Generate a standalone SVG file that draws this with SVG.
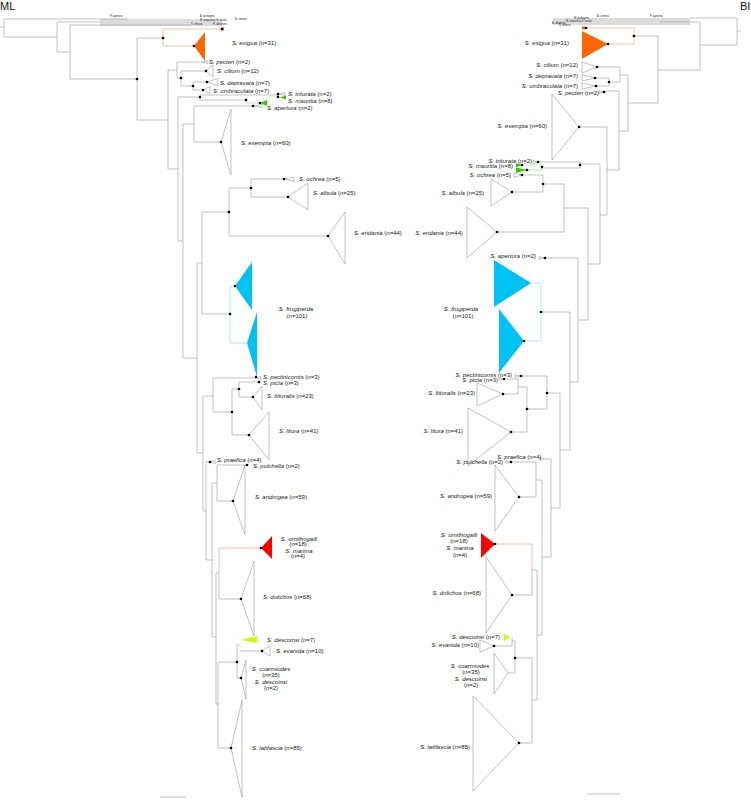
<svg xmlns="http://www.w3.org/2000/svg" width="751" height="800" viewBox="0 0 751 800">
<style>
.b{fill:none;stroke:#9a9a9a;stroke-width:0.6}
.t{fill:#fff;stroke:#9a9a9a;stroke-width:0.6}
.o{fill:none;stroke:#ff9a66;stroke-width:0.6}
.bl{fill:none;stroke:#7fd8f5;stroke-width:0.6}
.r{fill:none;stroke:#ff8a8a;stroke-width:0.6}
.y{fill:none;stroke:#e4f58a;stroke-width:0.6}
.gr{fill:none;stroke:#8fe07a;stroke-width:0.6}
.fo{fill:#ff6600}.fb{fill:#00c3f5}.fr{fill:#ff0000}.fg{fill:#33cc00}.fy{fill:#ccff00}
.band{fill:#dcdcdc}
text{font-family:"Liberation Sans",Arial,sans-serif;font-size:6px;fill:#1a1a1a}
.i{font-style:italic}
.s{font-size:2.6px}
.e{text-anchor:end}.m{text-anchor:middle}
.h{font-size:11px;fill:#111}
</style>
<defs>
<circle id="dt" r="1.3" fill="#000"/>
</defs>
<rect width="751" height="800" fill="#fff"/>
<text class="h" x="0" y="9.5">ML</text>
<text class="h" x="740" y="9.5">BI</text>

<!-- ================= LEFT TREE (ML) ================= -->
<g id="ml-outgroups">
<rect class="band" x="100" y="19" width="122" height="7"/>
<text class="s" x="110" y="17">P. agrotera</text>
<text class="s" x="200" y="16.5">A. prolegens</text>
<text class="s" x="200" y="20.5">M. unipuncta, S. ocular</text>
<text class="s" x="235" y="19.5">A. cinerea</text>
<text class="s" x="191" y="24.5">S. infusca</text>
<text class="s" x="213" y="24.5">H. albafrons</text>
</g>
<g id="ml-connectors">
<path class="b" d="M0 27H4M4 19V37M4 19H128M4 37H57M57 22V52M57 22H100M57 52H70M70 25V79M70 25H190M70 79H137M137 38V120M137 38H163M137 120H168"/>
<path class="o" d="M163 29V46M163 29H222M163 46H194"/>
<path class="b" d="M168 70V169M168 70H177M168 169H178M177 62V78M177 62H203M177 78H181M181 71V86M181 71H206M181 86H193M193 82V90M193 82H207M193 90H203"/>
<path class="b" d="M178 97V241M178 97H200M178 241H183M200 95V100M200 95H278M278 94V97M200 100H246"/>
<path class="gr" d="M278 97H281M246 100V103H260"/>
<path class="b" d="M183 124V358M183 124H194M183 358H197M194 106V142M194 106H253M194 142H221"/>
<path class="b" d="M197 263V453M197 263H202M197 453H203M202 212V314M202 212H229M202 314H230M229 188V236M229 188H251M229 236H328M251 179V197M251 179H284M251 197H288"/>
<path class="bl" d="M230 286V343M230 286H235M230 343H247"/>
<path class="b" d="M203 396V511M203 396H213M203 511H206M213 378V412M213 378H256M213 412H232M232 389V435M232 389H239M232 435H249M239 382V397M239 382H259M239 397H253"/>
<path class="b" d="M206 462V560M206 462H210M206 560H212M212 483V637M212 483H217M212 637H216M217 465V501M217 465H247M217 501H233"/>
<path class="b" d="M216 573V704M216 573H219M216 704H218M219 573V599M219 599H241"/>
<path class="r" d="M219 548V573M219 548H261"/>
<path class="b" d="M218 662V748M218 662H237M218 748H231M237 645V678M237 645H240M237 678H241M240 651H262"/>
<path class="y" d="M240 638V651M240 638H242"/>
<path class="b" d="M160 797H186"/>
</g>
<g id="ml-exigua"><rect class="fo" x="221" y="27.5" width="3" height="3"/><path class="fo" d="M194 46L205 32V61Z"/><text x="232" y="45"><tspan class="i">S. exigua</tspan>  (n=31)</text></g>
<g id="ml-pecten"><path class="t" d="M203 62L208 60.5V63.5Z"/><text x="209" y="64"><tspan class="i">S. pecten</tspan> (n=2)</text></g>
<g id="ml-cilium"><path class="t" d="M206 71L213 65V77Z"/><text x="217" y="73"><tspan class="i">S. cilium</tspan> (n=12)</text></g>
<g id="ml-depravata"><path class="t" d="M207 82L218 78.5V86Z"/><text x="220" y="84.5"><tspan class="i">S. depravata</tspan> (n=7)</text></g>
<g id="ml-umbraculata"><path class="t" d="M203 90L210 86.5V93.5Z"/><text x="213" y="92.5"><tspan class="i">S. umbraculata</tspan> (n=7)</text></g>
<g id="ml-triturata"><path class="t" d="M279 94L285 92.5V95.5Z"/><text x="288" y="96"><tspan class="i">S. triturata</tspan>  (n=2)</text></g>
<g id="ml-mauritia"><path class="fg" d="M280 97.5L286 95.5V99.5Z"/><path class="fg" d="M260 103L267 100V106Z"/><text x="288" y="103"><tspan class="i">S. mauritia</tspan>  (n=8)</text></g>
<g id="ml-apertura"><path class="t" d="M254 106L262 104.5V107.5Z"/><text x="267" y="110"><tspan class="i">S. apertura</tspan>  (n=2)</text></g>
<g id="ml-exempta"><path class="t" d="M221 142L231 109V175Z"/><text x="241" y="145"><tspan class="i">S. exempta</tspan> (n=60)</text></g>
<g id="ml-ochrea"><path class="t" d="M285 179L294 177V181.5Z"/><text x="299" y="181"><tspan class="i">S. ochrea</tspan> (n=5)</text></g>
<g id="ml-albula"><path class="t" d="M288 197L308 183V210Z"/><text x="313" y="195"><tspan class="i">S. albula</tspan> (n=25)</text></g>
<g id="ml-eridania"><path class="t" d="M328 236L345 212V264Z"/><text x="354" y="235"><tspan class="i">S. eridania</tspan> (n=44)</text></g>
<g id="ml-frugiperda"><path class="fb" d="M235 286L252 262V310Z"/><path class="fb" d="M247 343L257 312V377Z"/><text class="m" x="296" y="311"><tspan class="i">S. frugiperda</tspan></text><text class="m" x="297" y="318">(n=101)</text></g>
<g id="ml-pectinicornis"><path class="t" d="M257 378L261 376.5V379.5Z"/><text x="263" y="379"><tspan class="i">S. pectinicornis</tspan> (n=3)</text></g>
<g id="ml-picta"><text x="263" y="385"><tspan class="i">S. picta</tspan>  (n=3)</text></g>
<g id="ml-littoralis"><path class="t" d="M253 397L262 386V410Z"/><text x="267" y="398"><tspan class="i">S. littoralis</tspan>  (n=23)</text></g>
<g id="ml-litura"><path class="t" d="M249 435L269 412V460Z"/><text x="279" y="433"><tspan class="i">S. litura</tspan>  (n=41)</text></g>
<g id="ml-praefica"><path class="t" d="M211 462L215 460V464Z"/><text x="217" y="462"><tspan class="i">S. praefica</tspan> (n=4)</text></g>
<g id="ml-pulchella"><text x="253" y="468"><tspan class="i">S. pulchella</tspan> (n=2)</text></g>
<g id="ml-androgea"><path class="t" d="M233 501L245 465V535Z"/><text x="255" y="499"><tspan class="i">S. androgea</tspan> (n=59)</text></g>
<g id="ml-ornithogalli"><path class="fr" d="M261 548L272 536V559Z"/><text class="m" x="299" y="541"><tspan class="i">S. ornithogalli</tspan></text><text class="m" x="298" y="546">(n=18)</text><text class="m" x="299" y="553"><tspan class="i">S. marima</tspan></text><text class="m" x="298" y="558">(n=4)</text></g>
<g id="ml-dolichos"><path class="t" d="M241 599L254 561V636Z"/><text x="263" y="599"><tspan class="i">S. dolichos</tspan>  (n=68)</text></g>
<g id="ml-descoinsi"><path class="fy" d="M241 640L257 636V643Z"/><text x="267" y="642"><tspan class="i">S. descoinsi</tspan>  (n=7)</text></g>
<g id="ml-evanida"><path class="t" d="M262 651L270 646V656Z"/><text x="276" y="653"><tspan class="i">S. evanida</tspan>  (n=10)</text></g>
<g id="ml-coarmiodes"><path class="t" d="M241 678L246 660V699Z"/><text class="m" x="271" y="671"><tspan class="i">S. coarmiodes</tspan></text><text class="m" x="271" y="677">(n=35)</text><text class="m" x="271" y="684"><tspan class="i">S. descoinsi</tspan></text><text class="m" x="271" y="690">(n=2)</text></g>
<g id="ml-latifascia"><path class="t" d="M231 748L242 700V797Z"/><text x="252" y="750"><tspan class="i">S. latifascia</tspan>  (n=85)</text></g>
<g id="ml-dots">
<use href="#dt" x="163" y="38"/><use href="#dt" x="194" y="46"/><use href="#dt" x="137" y="79"/><use href="#dt" x="222" y="29"/>
<use href="#dt" x="206" y="71"/><use href="#dt" x="181" y="78"/><use href="#dt" x="207" y="82"/><use href="#dt" x="193" y="86"/><use href="#dt" x="203" y="90"/>
<use href="#dt" x="200" y="97"/><use href="#dt" x="278" y="94"/><use href="#dt" x="278" y="97"/><use href="#dt" x="246" y="100"/><use href="#dt" x="260" y="103"/><use href="#dt" x="253" y="106"/>
<use href="#dt" x="221" y="142"/><use href="#dt" x="284" y="179"/><use href="#dt" x="251" y="188"/><use href="#dt" x="288" y="197"/><use href="#dt" x="229" y="212"/><use href="#dt" x="328" y="236"/>
<use href="#dt" x="235" y="286"/><use href="#dt" x="230" y="314"/><use href="#dt" x="256" y="377"/><use href="#dt" x="259" y="382"/><use href="#dt" x="239" y="389"/><use href="#dt" x="253" y="397"/><use href="#dt" x="232" y="412"/><use href="#dt" x="249" y="435"/>
<use href="#dt" x="210" y="462"/><use href="#dt" x="247" y="465"/><use href="#dt" x="233" y="501"/><use href="#dt" x="261" y="548"/><use href="#dt" x="241" y="599"/>
<use href="#dt" x="262" y="651"/><use href="#dt" x="237" y="662"/><use href="#dt" x="241" y="678"/><use href="#dt" x="231" y="748"/>
</g>

<!-- ================= RIGHT TREE (BI) ================= -->
<g id="bi-outgroups">
<rect class="band" x="553" y="18" width="137" height="7"/>
<text class="s" x="650" y="16.5">P. agrotera</text>
<text class="s" x="597" y="17">A. cinerea</text>
<text class="s" x="574" y="19">M. prolegens</text>
<text class="s" x="566" y="21.5">M. unipuncta S. ocular</text>
<text class="s" x="552" y="23.5">A. albafrons</text>
<text class="s" x="559" y="25.5">S. infusca</text>
</g>
<g id="bi-connectors">
<path class="b" d="M737 31H741M737 18V45M737 18H690M737 45H700M700 22V70M700 22H660M700 70H658M658 36V103M658 36H634M658 103H628"/>
<path class="o" d="M634 28V44M634 28H586M634 44H608"/>
<path class="b" d="M628 75V131M628 75H620M628 131H619M620 67V82M620 67H597M620 82H609M609 78V86M609 78H595M609 86H596"/>
<path class="b" d="M619 91V170M619 91H604M619 170H607M607 127V215M607 127H579M607 215H600M600 164V264M600 164H580M600 264H588M580 162V168M580 162H538M580 168H542"/>
<path class="gr" d="M542 165V170M542 165H522M542 170H527"/>
<path class="b" d="M588 208V320M588 208H564M588 320H578M564 184V232M564 184H543M564 232H497M543 175V192M543 175H522M543 192H512"/>
<path class="b" d="M578 258V382M578 258H545M578 382H570M570 312V450M570 312H541M570 450H560"/>
<path class="bl" d="M541 283V341M541 283H531M541 341H524"/>
<path class="b" d="M560 393V508M560 393H547M560 508H551M547 376V409M547 376H521M547 409H527M527 387V432M527 387H518M527 432H511M518 379V394M518 379H504M518 394H503"/>
<path class="b" d="M551 459V557M551 459H544M551 557H542M542 480V635M542 480H536M542 635H537M536 462V497M536 462H511M536 497H519"/>
<path class="b" d="M537 570V700M537 570H532M537 700H532M532 570V595M532 595H512"/>
<path class="r" d="M532 544V570M532 544H495"/>
<path class="b" d="M532 658V743M532 658H515M532 743H519M515 641V673M515 641H512M515 673H508M512 646H494M512 637V646"/>
<path class="y" d="M512 637H510"/>
<path class="b" d="M587 794H620"/>
</g>
<g id="bi-exigua"><rect class="fo" x="582" y="26.5" width="3" height="3"/><path class="fo" d="M608 44L582 31V59Z"/><text class="e" x="569" y="45"><tspan class="i">S. exigua</tspan>  (n=31)</text></g>
<g id="bi-cilium"><path class="t" d="M597 67L582 62V73Z"/><text class="e" x="578" y="67"><tspan class="i">S. cilium</tspan>  (n=12)</text></g>
<g id="bi-depravata"><path class="t" d="M595 78L582 74.5V81Z"/><text class="e" x="578" y="78"><tspan class="i">S. depravata</tspan> (n=7)</text></g>
<g id="bi-umbraculata"><path class="t" d="M596 86L582 83V89Z"/><text class="e" x="578" y="88"><tspan class="i">S. umbraculata</tspan> (n=7)</text></g>
<g id="bi-pecten"><path class="t" d="M603 92L599 90.5V93.5Z"/><text class="e" x="599" y="95"><tspan class="i">S. pecten</tspan> (n=2)</text></g>
<g id="bi-exempta"><path class="t" d="M579 127L552 94V160Z"/><text class="e" x="547" y="128"><tspan class="i">S. exempta</tspan> (n=60)</text></g>
<g id="bi-triturata"><path class="t" d="M537 162L533 160.5V163.5Z"/><text class="e" x="532" y="163"><tspan class="i">S. triturata</tspan> (n=2)</text></g>
<g id="bi-mauritia"><path class="fg" d="M522 165L516 163V167.5Z"/><path class="fg" d="M527 170L516 167.5V173Z"/><text class="e" x="513" y="168"><tspan class="i">S. mauritia</tspan> (n=8)</text></g>
<g id="bi-ochrea"><path class="t" d="M521 175L514 173V177.5Z"/><text class="e" x="511" y="177"><tspan class="i">S. ochrea</tspan> (n=5)</text></g>
<g id="bi-albula"><path class="t" d="M512 192L491 179V206Z"/><text class="e" x="484" y="195"><tspan class="i">S. albula</tspan>  (n=25)</text></g>
<g id="bi-eridania"><path class="t" d="M497 232L467 207V258Z"/><text class="e" x="463" y="235"><tspan class="i">S. eridania</tspan>  (n=44)</text></g>
<g id="bi-apertura"><path class="t" d="M544 258L539 256.5V259.5Z"/><text class="e" x="536" y="258"><tspan class="i">S. apertura</tspan> (n=2)</text></g>
<g id="bi-frugiperda"><path class="fb" d="M531 283L494 260V307Z"/><path class="fb" d="M524 341L499 309V373Z"/><text class="m" x="461" y="311"><tspan class="i">S. frugiperda</tspan></text><text class="m" x="463" y="318">(n=101)</text></g>
<g id="bi-pectinicornis"><path class="t" d="M520 376L515 374.5V377.5Z"/><text class="e" x="512" y="377"><tspan class="i">S. pectinicornis</tspan> (n=3)</text></g>
<g id="bi-picta"><path class="t" d="M503 379L499 377.5V380.5Z"/><text class="e" x="498" y="382"><tspan class="i">S. picta</tspan> (n=3)</text></g>
<g id="bi-littoralis"><path class="t" d="M503 394L477 383V406Z"/><text class="e" x="475" y="395"><tspan class="i">S. littoralis</tspan>  (n=23)</text></g>
<g id="bi-litura"><path class="t" d="M511 432L468 408V466Z"/><text class="e" x="463" y="433"><tspan class="i">S. litura</tspan>  (n=41)</text></g>
<g id="bi-praefica"><path class="t" d="M544 459L540 457.5V460.5Z"/><text x="497" y="459"><tspan class="i">S. praefica</tspan> (n=4)</text></g>
<g id="bi-pulchella"><path class="t" d="M510 462L506 460.5V463.5Z"/><text class="e" x="503" y="464"><tspan class="i">S. pulchella</tspan> (n=2)</text></g>
<g id="bi-androgea"><path class="t" d="M519 497L495 465V531Z"/><text class="e" x="492" y="498"><tspan class="i">S. androgea</tspan> (n=59)</text></g>
<g id="bi-ornithogalli"><path class="fr" d="M495 544L481 533V558Z"/><text class="m" x="459" y="537"><tspan class="i">S. ornithogalli</tspan></text><text class="m" x="459" y="543">(n=18)</text><text class="m" x="460" y="550"><tspan class="i">S. marima</tspan></text><text class="m" x="460" y="557">(n=4)</text></g>
<g id="bi-dolichos"><path class="t" d="M512 595L486 557V633Z"/><text class="e" x="481" y="595"><tspan class="i">S. dolichos</tspan>  (n=68)</text></g>
<g id="bi-descoinsi"><path class="fy" d="M510 637L504 634V641Z"/><text class="e" x="500" y="639"><tspan class="i">S. descoinsi</tspan> (n=7)</text></g>
<g id="bi-evanida"><path class="t" d="M494 646L480 640V652Z"/><text class="e" x="479" y="647"><tspan class="i">S. evanida</tspan> (n=10)</text></g>
<g id="bi-coarmiodes"><path class="t" d="M508 673L494 653V694Z"/><text class="m" x="470" y="668"><tspan class="i">S. coarmiodes</tspan></text><text class="m" x="471" y="674">(n=35)</text><text class="m" x="471" y="681"><tspan class="i">S. descoinsi</tspan></text><text class="m" x="471" y="687">(n=2)</text></g>
<g id="bi-latifascia"><path class="t" d="M519 743L473 696V791Z"/><text class="e" x="470" y="749"><tspan class="i">S. latifascia</tspan> (n=85)</text></g>
<g id="bi-dots">
<use href="#dt" x="634" y="36"/><use href="#dt" x="608" y="44"/><use href="#dt" x="586" y="28"/><use href="#dt" x="597" y="67"/><use href="#dt" x="595" y="78"/><use href="#dt" x="609" y="82"/><use href="#dt" x="596" y="86"/><use href="#dt" x="604" y="92"/>
<use href="#dt" x="579" y="127"/><use href="#dt" x="580" y="165"/><use href="#dt" x="538" y="162"/><use href="#dt" x="542" y="167"/><use href="#dt" x="522" y="165"/><use href="#dt" x="527" y="170"/><use href="#dt" x="522" y="175"/><use href="#dt" x="543" y="184"/><use href="#dt" x="512" y="192"/><use href="#dt" x="497" y="232"/>
<use href="#dt" x="545" y="258"/><use href="#dt" x="541" y="312"/><use href="#dt" x="524" y="341"/><use href="#dt" x="521" y="376"/><use href="#dt" x="504" y="379"/><use href="#dt" x="503" y="394"/><use href="#dt" x="547" y="393"/><use href="#dt" x="527" y="409"/><use href="#dt" x="511" y="432"/>
<use href="#dt" x="511" y="462"/><use href="#dt" x="519" y="497"/><use href="#dt" x="495" y="544"/><use href="#dt" x="512" y="595"/><use href="#dt" x="494" y="646"/><use href="#dt" x="515" y="658"/><use href="#dt" x="519" y="743"/>
</g>
</svg>
